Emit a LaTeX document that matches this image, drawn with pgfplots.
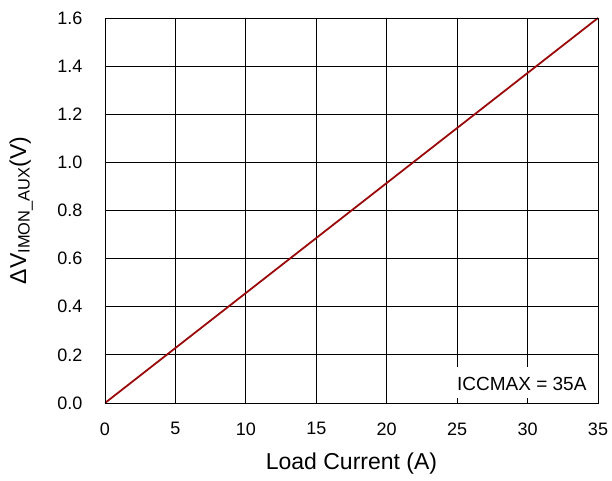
\documentclass[border=0pt]{standalone}
\usepackage{fontspec}
\setmainfont{Liberation Sans}
\usepackage{pgfplots}
\pgfplotsset{compat=1.18}
\definecolor{linered}{HTML}{9A0A0A}
\begin{document}
\begin{tikzpicture}
% fixed page frame around the axis box (axis box spans 0..493pt x 0..385pt)
\path[use as bounding box] (-105pt,-78pt) rectangle (507pt,403pt);
\begin{axis}[
  scale only axis,
  width=493pt, height=385pt,
  xmin=0, xmax=35, ymin=0, ymax=1.6,
  xtick={0,5,...,35},
  ytick={0,0.2,...,1.6},
  grid=major,
  grid style={black, line width=0.8pt},
  axis line style={black, line width=0.9pt},
  tick style={black, line width=0.8pt},
  major tick length=5pt,
  tick align=inside,
  /pgf/number format/assume math mode=true,
  yticklabel style={/pgf/number format/fixed, /pgf/number format/fixed zerofill, /pgf/number format/precision=1, xshift=-19pt},
  xticklabel style={/pgf/number format/fixed, yshift=-16pt},
  ticklabel style={font=\fontsize{18}{21}\selectfont},
  label style={font=\fontsize{23}{26}\selectfont},
  xlabel={Load Current (A)},
  xlabel style={at={(axis description cs:0.5,-0.156)}, anchor=center},
  ylabel={ΔV\raisebox{-0.3ex}{\fontsize{16.4}{18}\selectfont IMON\_AUX}(V)},
  ylabel style={at={(axis description cs:-0.170,0.5)}, anchor=center},
]
\addplot[linered, line width=1.8pt] coordinates {(0,0) (35,1.6)};
\node[anchor=south east, fill=white, inner sep=3pt, minimum width=150pt, minimum height=35pt, align=right,
  font=\fontsize{19}{22}\selectfont, text depth=0pt]
  at (axis cs:35,0) [yshift=1pt, xshift=-1pt] {ICCMAX = 35A};
\draw[black, line width=0.8pt] (axis cs:25,0) -- ++(0,5pt);
\draw[black, line width=0.8pt] (axis cs:30,0) -- ++(0,5pt);
\draw[black, line width=0.9pt] (rel axis cs:0,0) rectangle (rel axis cs:1,1);
\end{axis}
\end{tikzpicture}
\end{document}
